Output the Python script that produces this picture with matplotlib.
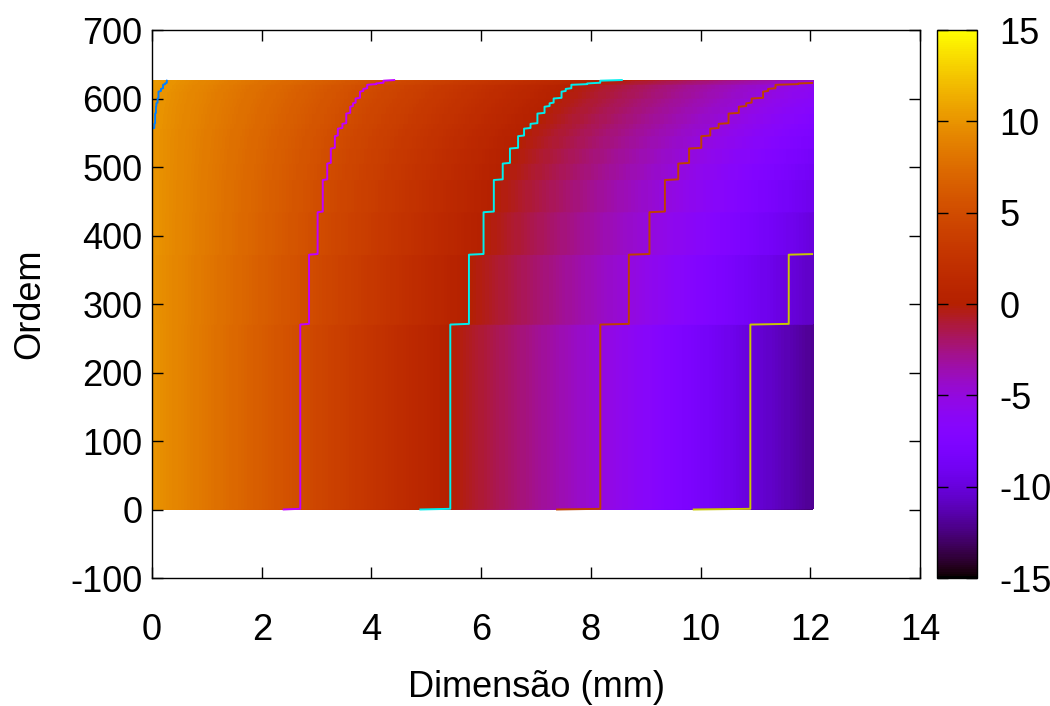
import numpy as np
import matplotlib
matplotlib.use("Agg")
import matplotlib.pyplot as plt
from matplotlib.colors import Normalize
from matplotlib.cm import ScalarMappable

plt.rcParams['font.family'] = ['Liberation Sans', 'DejaVu Sans']
plt.rcParams['font.size'] = 26
plt.rcParams['axes.unicode_minus'] = False

# Ordem bands (first and last row of each band) and the field value
# at the two ends of the section, x = 0 and x = X_END
X_END = 12.05
band_start = [0, 1, 271, 373, 435, 482, 506, 528, 546, 557, 564,
              579, 589, 594, 601, 611, 615, 621, 623, 627]
band_end = [0, 270, 372, 434, 481, 505, 527, 545, 556, 563, 578,
            588, 593, 600, 610, 614, 620, 622, 626, 627]
val_left = [9.78, 9.94, 9.91, 9.99, 9.99, 9.99, 9.99, 9.99, 9.99, 10.06,
            10.08, 10.10, 10.11, 10.14, 10.16, 10.22, 10.27, 10.31, 10.34, 10.34]
val_right = [-14.4, -12.09, -10.76, -9.93, -9.33, -8.84, -8.46, -8.05, -7.76, -7.51,
             -7.21, -6.91, -6.70, -6.55, -6.24, -6.11, -5.92, -5.35, -4.91, -4.18]

contour_levels = [-10, -5, 0, 5, 10]
contour_colors = ['#c8c800', '#c04000', '#00eeee', '#c000ff', '#0080ff']

xticks = np.arange(0, 15, 2)
yticks = np.arange(-100, 701, 100)
cbticks = np.arange(-15, 16, 5)


def build_grid():
    rows_y, rows_z = [], []
    for s, e, a, b in zip(band_start, band_end, val_left, val_right):
        for y in sorted(set([s, e])):
            rows_y.append(y)
            rows_z.append([a, b])
    return np.array([0.0, X_END]), np.array(rows_y, float), np.array(rows_z)


def main():
    x, y, z = build_grid()

    fig = plt.figure(figsize=(10.5, 7.06), dpi=100)
    ax = fig.add_axes([0.1448, 0.1813, 0.7314, 0.7762])
    cax = fig.add_axes([0.8924, 0.1813, 0.0381, 0.7762])

    norm = Normalize(-15, 15)
    ax.contourf(x, y, z, levels=np.linspace(-15, 15, 301), cmap='gnuplot',
                norm=norm, antialiased=False)
    ax.contour(x, y, z, levels=contour_levels, colors=contour_colors,
               linewidths=1.4)

    ax.set_xlim(0, 14)
    ax.set_ylim(-100, 700)
    ax.set_xticks(xticks)
    ax.set_yticks(yticks)
    ax.tick_params(direction='in', length=8, width=1, top=True, right=True)
    ax.tick_params(axis='x', pad=25)
    ax.tick_params(axis='y', pad=7)
    for sp in ax.spines.values():
        sp.set_linewidth(1)
    ax.set_xlabel('Dimensão (mm)', va='center')
    ax.set_ylabel('Ordem', va='center')
    ax.xaxis.set_label_coords(0.5, -0.2)
    ax.yaxis.set_label_coords(-0.159, 0.5)

    cb = fig.colorbar(ScalarMappable(norm=norm, cmap='gnuplot'), cax=cax)
    cb.set_ticks(cbticks)
    cb.outline.set_linewidth(1)
    cax.tick_params(direction='in', length=8, width=1, left=True, right=True,
                    labelleft=False, labelright=True, pad=16)

    fig.savefig('out.png', dpi=100)


if __name__ == "__main__":
    main()
